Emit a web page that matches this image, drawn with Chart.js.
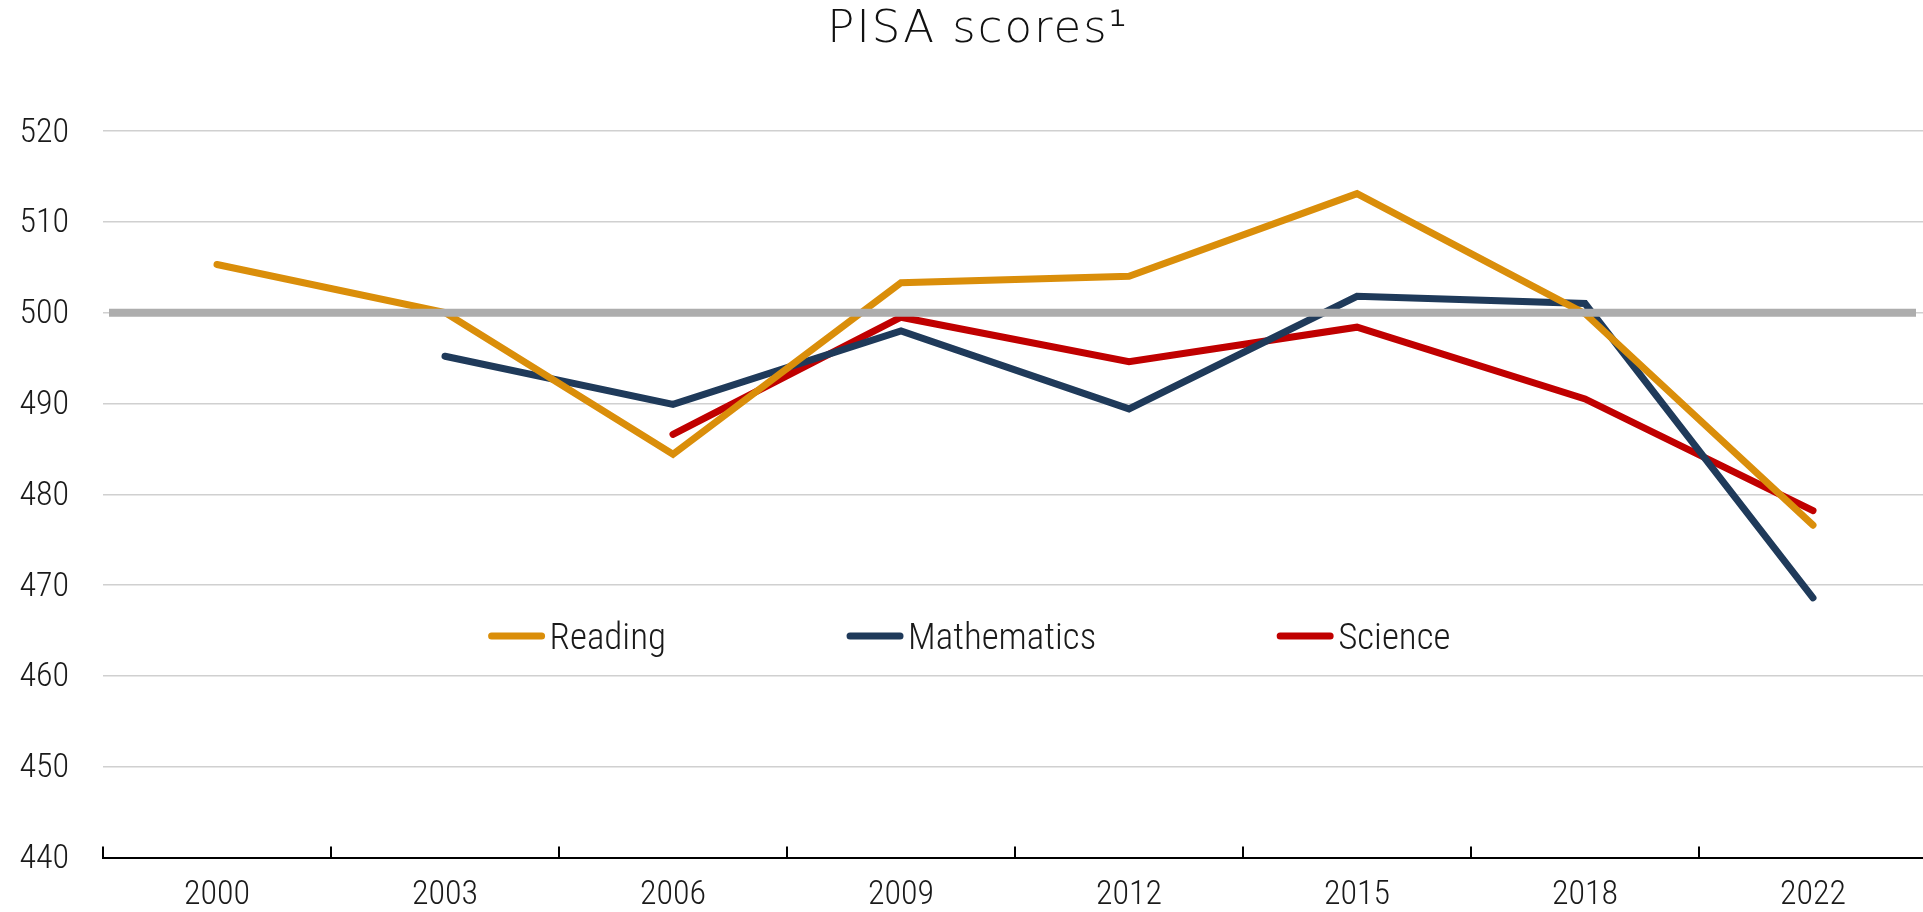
<!DOCTYPE html>
<html>
<head>
<meta charset="utf-8">
<script src="https://cdn.jsdelivr.net/npm/chart.js@4.4.1/dist/chart.umd.min.js"></script>
<style>
  html, body { margin: 0; padding: 0; background: #fff; overflow: hidden; }
  #wrap { position: relative; width: 1928px; height: 912px; }
</style>
</head>
<body>
<div id="wrap"><canvas id="chart"></canvas></div>
<script>
// PISA survey years
const years = ['2000', '2003', '2006', '2009', '2012', '2015', '2018', '2022'];

// scores
const reading = [505.3, 500.0, 484.4, 503.3, 504.0, 513.1, 499.9, 476.6];
const mathematics = [null, 495.2, 489.9, 498.0, 489.4, 501.8, 501.0, 468.6];
const science = [null, null, 486.6, 499.5, 494.6, 498.4, 490.5, 478.2];

// OECD reference level (grey bar)
const oecdAverage = 500;

const yMin = 440;
const yMax = 520;
const yStep = 10;

const chartTitle = 'PISA scores¹';

// Roboto variable font, condensed light
const axisFamily = 'Roboto, sans-serif';
const axisWeight = '300 condensed';

// title drawn by hand so it can get a little letter spacing
const spacedTitle = {
  id: 'spacedTitle',
  afterDraw(chart) {
    const { ctx } = chart;
    ctx.save();
    ctx.font = "200 45px 'DejaVu Sans'";
    ctx.letterSpacing = '2px';
    ctx.fillStyle = '#111';
    ctx.textAlign = 'center';
    ctx.textBaseline = 'alphabetic';
    ctx.fillText(chartTitle, chart.width / 2 + 14, 42);
    ctx.restore();
  }
};

// grey reference line at 500, drawn over the series
const averageLine = {
  id: 'averageLine',
  afterDatasetsDraw(chart) {
    const { ctx, scales: { x, y } } = chart;
    const py = y.getPixelForValue(oecdAverage);
    ctx.save();
    ctx.strokeStyle = '#adadad';
    ctx.lineWidth = 8;
    ctx.beginPath();
    ctx.moveTo(x.left + 6, py);
    ctx.lineTo(x.right - 11, py);
    ctx.stroke();
    ctx.restore();
  }
};

// small tick marks pointing up from the x axis, between categories
const upTicks = {
  id: 'upTicks',
  afterDraw(chart) {
    const { ctx, scales: { x } } = chart;
    const step = x.getPixelForValue(1) - x.getPixelForValue(0);
    ctx.save();
    ctx.strokeStyle = '#000';
    ctx.lineWidth = 2;
    ctx.beginPath();
    for (let i = 0; i <= years.length; i++) {
      const px = Math.round(x.getPixelForValue(0) - step / 2 + i * step);
      ctx.moveTo(px, x.top - 11);
      ctx.lineTo(px, x.top);
    }
    ctx.stroke();
    ctx.restore();
  }
};

// legend inside the plot: a short thick line then the label
const lineLegend = {
  id: 'lineLegend',
  afterDraw(chart) {
    const { ctx, chartArea } = chart;
    ctx.save();
    ctx.font = axisWeight + ' 37px ' + axisFamily;
    const items = chart.data.datasets.map(ds => ({
      label: ds.label,
      color: ds.borderColor,
      w: 56 + 6 + ctx.measureText(ds.label).width
    }));
    const gap = 180;
    const total = items.reduce((s, it) => s + it.w, 0) + gap * (items.length - 1);
    let x0 = chart.width / 2 + 6 - total / 2;
    const ly = chartArea.top + 505;
    items.forEach(it => {
      ctx.strokeStyle = it.color;
      ctx.lineWidth = 7;
      ctx.lineCap = 'round';
      ctx.beginPath();
      ctx.moveTo(x0 + 3, ly);
      ctx.lineTo(x0 + 53, ly);
      ctx.stroke();
      ctx.fillStyle = '#1a1a1a';
      ctx.textBaseline = 'alphabetic';
      ctx.textAlign = 'left';
      ctx.fillText(it.label, x0 + 61, ly + 13);
      x0 += it.w + gap;
    });
    ctx.restore();
  }
};

new Chart(document.getElementById('chart'), {
  type: 'line',
  data: {
    labels: years,
    datasets: [
      { label: 'Reading', data: reading, borderColor: '#da8e0a', backgroundColor: '#da8e0a' },
      { label: 'Mathematics', data: mathematics, borderColor: '#1f3a5a', backgroundColor: '#1f3a5a' },
      { label: 'Science', data: science, borderColor: '#c00000', backgroundColor: '#c00000' }
    ]
  },
  options: {
    responsive: true,
    maintainAspectRatio: false,
    animation: false,
    layout: { padding: { left: 0, right: 1, top: 131, bottom: 0 } },
    elements: {
      line: { borderWidth: 7, tension: 0, borderCapStyle: 'round', borderJoinStyle: 'miter', fill: false },
      point: { radius: 0, hoverRadius: 0 }
    },
    plugins: {
      legend: { display: false },
      tooltip: { enabled: false },
      title: { display: false }
    },
    scales: {
      x: {
        offset: true,
        grid: { display: false, drawTicks: false },
        border: { display: true, color: '#000', width: 2 },
        ticks: {
          color: '#1a1a1a',
          font: { family: axisFamily, size: 34, weight: axisWeight },
          padding: 17,
          maxRotation: 0,
          autoSkip: false
        },
        afterFit(s) { s.height = 54; }
      },
      y: {
        min: yMin,
        max: yMax,
        grid: { color: '#d0d0d0', lineWidth: 1.5, drawTicks: false },
        border: { display: false },
        ticks: {
          stepSize: yStep,
          color: '#1a1a1a',
          font: { family: axisFamily, size: 34, weight: axisWeight },
          padding: 34,
          labelOffset: 2
        },
        afterFit(s) { s.width = 103; }
      }
    }
  },
  plugins: [averageLine, upTicks, lineLegend, spacedTitle]
});
</script>
</body>
</html>
